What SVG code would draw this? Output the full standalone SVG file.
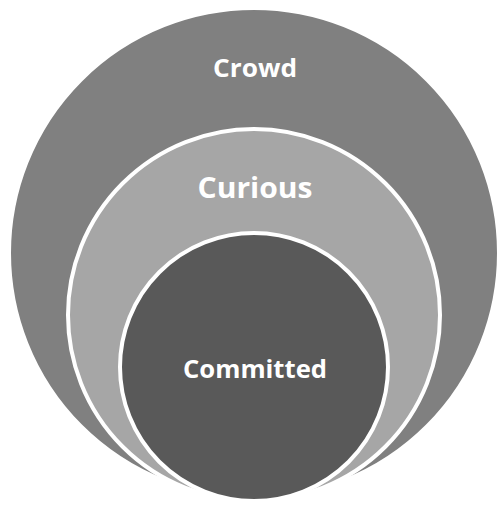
<svg xmlns="http://www.w3.org/2000/svg" width="502" height="505" viewBox="0 0 502 505">
<style>
.c{stroke:#FFFFFF;stroke-width:4}
.t{font-family:"Open Sans","Liberation Sans",sans-serif;font-weight:bold;fill:#FFFFFF;text-anchor:middle}
</style>
<rect width="502" height="505" fill="#FFFFFF"/>
<g id="crowd">
<circle class="c" cx="254" cy="253" r="245" fill="#808080"/>
<text class="t" x="255" y="77" font-size="25" textLength="84" lengthAdjust="spacingAndGlyphs">Crowd</text>
</g>
<g id="curious">
<circle class="c" cx="254" cy="315" r="186" fill="#A6A6A6"/>
<text class="t" x="255" y="198" font-size="29" textLength="115" lengthAdjust="spacingAndGlyphs">Curious</text>
</g>
<g id="committed">
<circle class="c" cx="254" cy="367" r="134" fill="#595959"/>
<text class="t" x="255" y="378" font-size="25" textLength="144" lengthAdjust="spacingAndGlyphs">Committed</text>
</g>
</svg>
